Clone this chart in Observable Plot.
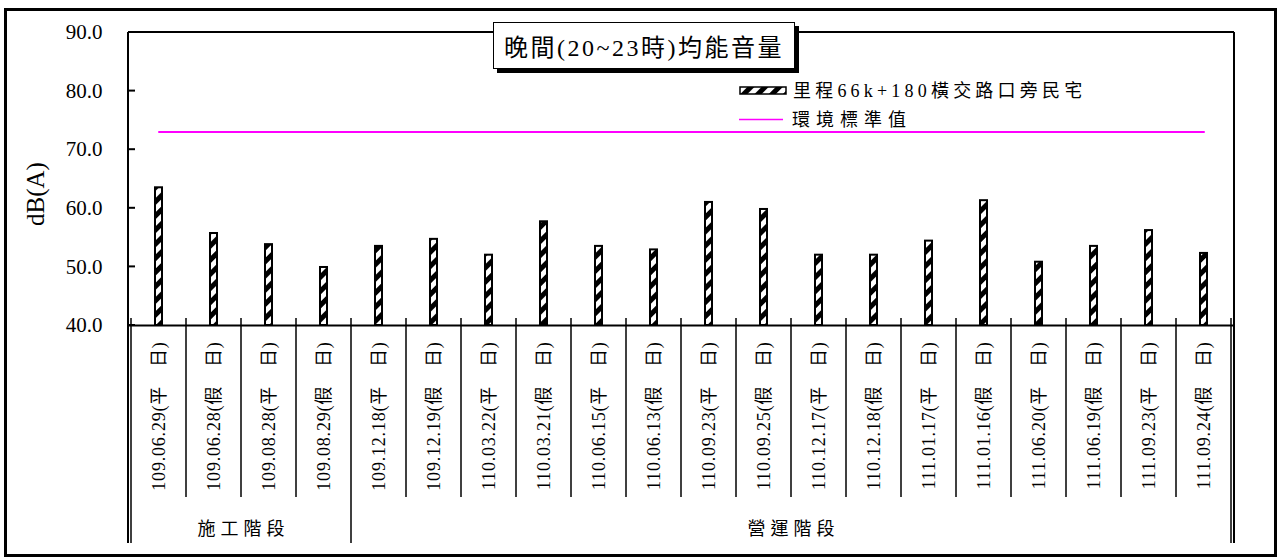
<!DOCTYPE html>
<html><head><meta charset="utf-8">
<script src="https://cdn.jsdelivr.net/npm/d3@7"></script>
<script src="https://cdn.jsdelivr.net/npm/@observablehq/plot@0.6"></script>
<style>
html,body{margin:0;padding:0;background:#fff;}
#wrap{position:relative;width:1280px;height:559px;overflow:hidden;background:#fff;}
#border{position:absolute;left:4px;top:8px;width:1273px;height:549px;border:3px solid #000;box-sizing:border-box;z-index:3;pointer-events:none;}
#title{position:absolute;left:493px;top:22px;width:302px;height:47px;box-sizing:border-box;border:1.5px solid #000;background:#fff;box-shadow:4px 4px 0 #000;font-family:"Liberation Serif","Noto Sans CJK TC",serif !important;font-size:24px;letter-spacing:2.5px;display:flex;align-items:center;justify-content:center;z-index:2;white-space:nowrap;}
#chart{position:absolute;left:0;top:0;}
#chart svg text{font-family:"Liberation Serif","Noto Sans CJK TC",serif !important;font-variant:normal !important;}
#chart svg g[aria-label="x-axis tick label"] text{letter-spacing:0.8px;}
</style>
</head><body>
<div id="wrap"><div id="chart"></div><div id="title">晚間(20~23時)均能音量</div><div id="border"></div></div>
<script>
const dates = ["109.06.29","109.06.28","109.08.28","109.08.29","109.12.18","109.12.19","110.03.22","110.03.21","110.06.15","110.06.13","110.09.23","110.09.25","110.12.17","110.12.18","111.01.17","111.01.16","111.06.20","111.06.19","111.09.23","111.09.24"];
const dayTypes = ["平　日","假　日","平　日","假　日","平　日","假　日","平　日","假　日","平　日","假　日","平　日","假　日","平　日","假　日","平　日","假　日","平　日","假　日","平　日","假　日"];
const phases = ["施工階段","施工階段","施工階段","施工階段","營運階段","營運階段","營運階段","營運階段","營運階段","營運階段","營運階段","營運階段","營運階段","營運階段","營運階段","營運階段","營運階段","營運階段","營運階段","營運階段"];
const values = [63.5, 55.7, 53.8, 49.9, 53.5, 54.7, 52.0, 57.7, 53.5, 52.9, 61.0, 59.8, 52.0, 52.0, 54.4, 61.3, 50.8, 53.5, 56.2, 52.3];
const standard = 73.0;
const yTicks = [40, 50, 60, 70, 80, 90];
const seriesName = "里程66k+180橫交路口旁民宅";
const standardName = "環境標準值";
const yLabel = "dB(A)";

const labels = dates.map((d, i) => `${d}(${dayTypes[i]})`);
const data = labels.map((label, i) => ({label, value: values[i], phase: phases[i]}));
const yMin = yTicks[0], yMax = yTicks[yTicks.length - 1];

function decorations(index, scales, vals, dim) {
  const {x, y} = scales;
  const step = x.step();
  const n = labels.length;
  const L = dim.marginLeft, R = dim.width - dim.marginRight, T = dim.marginTop, B = y(yMin);
  const g = d3.create("svg:g").attr("text-anchor", "start");
  const defs = g.append("defs");
  const pat = defs.append("pattern").attr("id", "stripes").attr("patternUnits", "userSpaceOnUse")
    .attr("width", 10).attr("height", 10).attr("patternTransform", "rotate(45)");
  pat.append("rect").attr("width", 10).attr("height", 10).attr("fill", "#fff");
  pat.append("rect").attr("width", 5).attr("height", 10).attr("fill", "#000");
  const line = (x1, y1, x2, y2, w) => g.append("line").attr("x1", x1).attr("y1", y1).attr("x2", x2).attr("y2", y2)
    .attr("stroke", "#000").attr("stroke-width", w);
  // frame
  line(L, T, R, T, 2);
  line(L, T, L, B + 218, 2);
  line(R, T, R, B + 218, 2);
  // y ticks (inward)
  for (const t of yTicks) line(L, y(t), L + 7, y(t), 2);
  // category separators
  for (let i = 0; i <= n; i++) {
    const bx = i < n ? x(labels[i]) : x(labels[n - 1]) + step;
    const isGroup = i === 0 || i === n || phases[i] !== phases[i - 1];
    line(bx, B - 7, bx, B + (isGroup ? 218 : 172), 1.5);
  }
  // group labels
  const groups = d3.groups(data, d => d.phase);
  for (const [name, rows] of groups) {
    const x0 = x(rows[0].label), x1 = x(rows[rows.length - 1].label) + step;
    g.append("text").attr("x", (x0 + x1) / 2 + 2.5).attr("y", B + 204).attr("text-anchor", "middle")
      .attr("dominant-baseline", "central").attr("font-size", 18)
      .attr("letter-spacing", 5).text(name);
  }
  // y label
  g.append("text").attr("transform", `translate(44,${T + 162}) rotate(-90)`).attr("text-anchor", "middle")
    .attr("font-size", 25).text(yLabel);
  // legend
  g.append("rect").attr("x", 740).attr("y", 87).attr("width", 46).attr("height", 7)
    .attr("fill", "url(#stripes)").attr("stroke", "#000").attr("stroke-width", 1.5);
  g.append("text").attr("x", 793).attr("y", 91).attr("dominant-baseline", "central").attr("text-anchor", "start")
    .attr("font-size", 18).attr("letter-spacing", 4.2).text(seriesName);
  g.append("line").attr("x1", 739).attr("x2", 783).attr("y1", 119.5).attr("y2", 119.5)
    .attr("stroke", "#ff00ff").attr("stroke-width", 1.5);
  g.append("text").attr("x", 792).attr("y", 120).attr("dominant-baseline", "central").attr("text-anchor", "start")
    .attr("font-size", 18).attr("letter-spacing", 6).text(standardName);
  return g.node();
}

const chart = Plot.plot({
  width: 1280,
  height: 559,
  marginLeft: 128,
  marginRight: 46,
  marginTop: 32,
  marginBottom: 234,
  style: {background: "transparent", overflow: "visible"},
  x: {type: "band", domain: labels, padding: 0},
  y: {domain: [yMin, yMax]},
  marks: [
    decorations,
    Plot.barY(data, {x: "label", y1: () => yMin, y2: "value", fill: "url(#stripes)", stroke: "#000", strokeWidth: 2, insetLeft: 24, insetRight: 24}),
    Plot.lineY(data, {x: "label", y: () => standard, stroke: "#ff00ff", strokeWidth: 2}),
    Plot.ruleY([yMin], {stroke: "#000", strokeWidth: 2}),
    Plot.axisY({ticks: yTicks, tickSize: 0, tickPadding: 26, tickFormat: d => d.toFixed(1), fontSize: 21, label: null}),
    Plot.axisX({tickRotate: -90, tickSize: 0, tickPadding: 16, fontSize: 18, label: null})
  ]
});
document.getElementById("chart").appendChild(chart);
</script>
</body></html>
